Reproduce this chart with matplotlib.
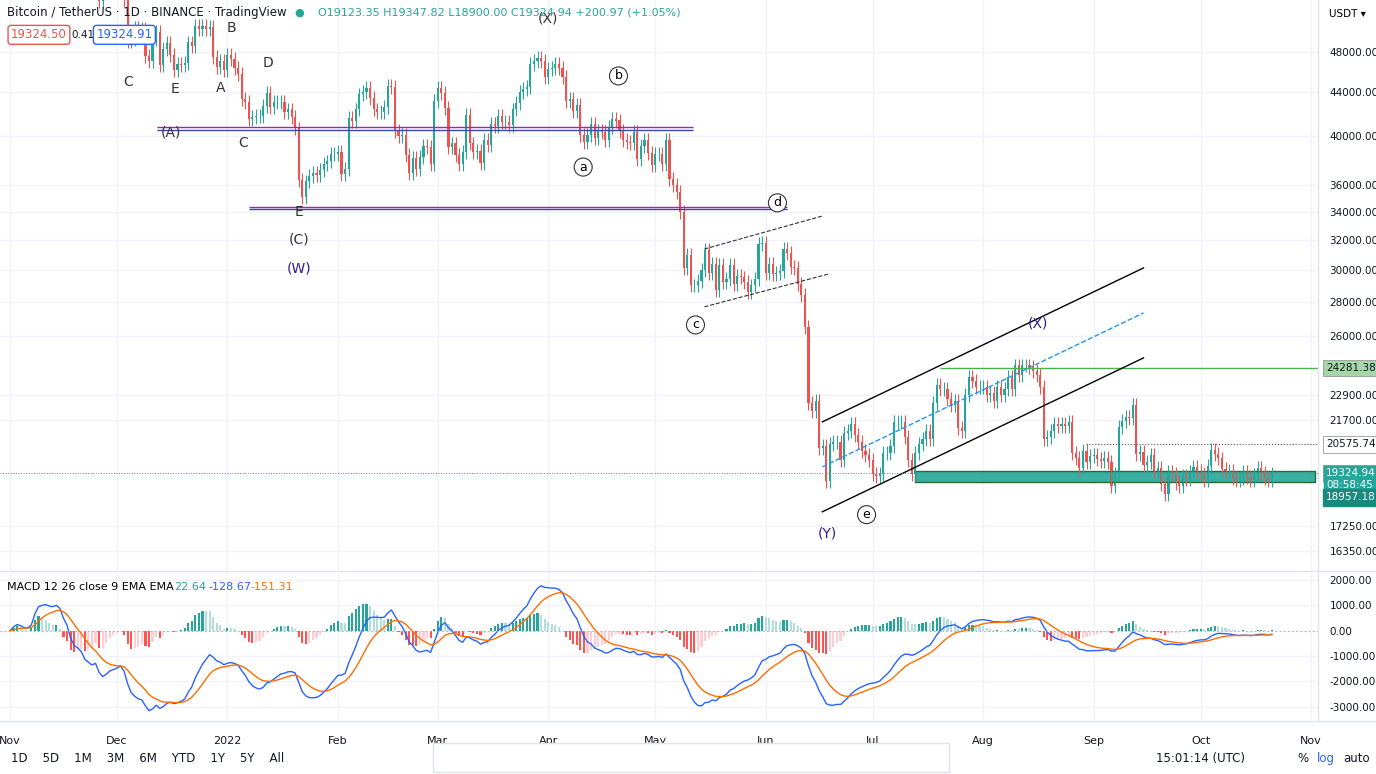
import numpy as np
import matplotlib.pyplot as plt
from matplotlib.ticker import NullLocator

# daily closes, Nov 1 2021 .. Oct 21 2022
closes = [
    # Nov
    61300, 63200, 62900, 61400, 61000, 61500, 63300, 67500, 66900, 64900, 64900, 64100, 64400, 65500, 63600,
    60100, 60400, 56900, 58100, 59700, 58700, 56300, 57600, 57200, 58900, 53600, 54800, 57300, 57800, 57000,
    # Dec
    56900, 57200, 53700, 49200, 49400, 50600, 50500, 50500, 47600, 47100, 49400, 50100, 46700, 48300, 48900,
    47700, 46200, 46800, 46700, 46900, 49000, 48600, 50800, 50400, 50800, 50400, 50700, 47500, 46500, 47100, 46200,
    # Jan
    47700, 47300, 46400, 45800, 43400, 43100, 41500, 41700, 41800, 41800, 42700, 43900, 42600, 43100, 43100,
    43100, 42200, 42400, 41700, 40700, 36400, 35100, 36300, 36700, 36950, 36800, 37200, 37700, 37900, 38500, 38500,
    # Feb
    38700, 36900, 37300, 41600, 41400, 42400, 43800, 44000, 44400, 43500, 42400, 42200, 42200, 42600, 44600,
    44500, 40500, 40000, 40100, 38400, 37000, 38200, 37300, 38300, 39200, 39100, 37700, 43200,
    # Mar
    44400, 43900, 42500, 39100, 39400, 38400, 37700, 38700, 41900, 39400, 38700, 38800, 37800, 39700, 39300,
    41100, 40900, 41800, 41300, 41300, 41000, 42400, 43000, 44000, 44300, 44500, 46800, 47100, 47400, 47100, 45500,
    # Apr
    46300, 46400, 46800, 46400, 45500, 43200, 43400, 42300, 42800, 40100, 39500, 40100, 41100, 39900, 40500,
    40400, 39700, 40800, 41500, 41400, 40500, 39700, 39500, 39400, 40400, 38100, 39200, 39700, 38600, 37600,
    # May
    38500, 38500, 37700, 39700, 36500, 36000, 35500, 34000, 30100, 31000, 29000, 29000, 29300, 30000, 31300,
    29800, 30400, 28700, 30300, 29200, 29400, 30300, 29100, 29600, 29500, 29200, 28600, 29000, 29400, 31700, 31800,
    # Jun
    29800, 30400, 29700, 29800, 29900, 31400, 31100, 30200, 30100, 29100, 28400, 26500, 22500, 22100, 22600,
    20400, 20500, 19000, 20600, 20700, 20700, 19900, 21100, 21200, 21500, 21000, 20700, 20300, 20100, 19900,
    # Jul
    19300, 19200, 19300, 20200, 20200, 20500, 21600, 21600, 21600, 20900, 19900, 19300, 20200, 20600, 20800,
    21200, 20800, 22500, 23400, 23200, 23200, 22700, 22400, 22600, 21300, 21200, 22900, 23800, 23600, 23300, 23300,
    # Aug
    23300, 22900, 23000, 22600, 23300, 22900, 23200, 23800, 23200, 24400, 23900, 24400, 24400, 24300, 24100,
    23900, 23300, 20800, 20900, 21200, 21500, 21400, 21500, 21400, 21600, 20200, 20000, 19550, 20300, 19800, 20050,
    # Sep
    20100, 19950, 19830, 19990, 19800, 18800, 19300, 21350, 21650, 21830, 21770, 22400, 20170, 20230, 19700,
    19800, 20110, 19420, 19540, 18880, 18480, 19400, 19300, 18920, 18800, 19220, 19080, 19410, 19590, 19430,
    # Oct
    19310, 19060, 19630, 20340, 20160, 19960, 19530, 19420, 19440, 19130, 19060, 19150, 19380, 19180, 19070,
    19260, 19550, 19330, 19120, 19040, 19324,
]
month_labels = ["Nov", "Dec", "2022", "Feb", "Mar", "Apr", "May", "Jun", "Jul", "Aug", "Sep", "Oct", "Nov"]
month_days = [0, 30, 61, 92, 120, 151, 181, 212, 242, 273, 304, 334, 365]
price_ticks = [48000, 44000, 40000, 36000, 34000, 32000, 30000, 28000, 26000, 22900, 21700, 17250, 16350]
macd_ticks = [2000, 1000, 0, -1000, -2000, -3000]

UP, DN = "#26a69a", "#ef5350"
c = np.array(closes, dtype=float)
o = np.r_[c[0], c[:-1]]
h = np.maximum(o, c) * 1.015
l = np.minimum(o, c) * 0.985
x = np.arange(len(c))
col = np.where(c >= o, UP, DN)

fig = plt.figure(figsize=(13.76, 7.74), dpi=100)
ax = fig.add_axes([0, 0.2636, 0.958, 0.7364])
mx = fig.add_axes([0, 0.070, 0.958, 0.191], sharex=ax)

for a in (ax, mx):
    for s in a.spines.values():
        s.set_visible(False)
    a.set_axisbelow(True)
    a.grid(color="#f0f3fa", lw=1)
    a.yaxis.tick_right()
    a.tick_params(length=0, labelsize=7.5, colors="#131722", pad=8)
fig.add_artist(plt.Line2D([0, 1], [0.2625, 0.2625], color="#e0e3eb", lw=1))
fig.add_artist(plt.Line2D([0, 1], [0.068, 0.068], color="#e0e3eb", lw=1))
fig.add_artist(plt.Line2D([0.958, 0.958], [0.068, 1], color="#e0e3eb", lw=1))

ax.vlines(x, l, h, colors=col, lw=0.8)
ax.bar(x, np.abs(c - o) + 1, bottom=np.minimum(o, c), width=0.6, color=col)
ax.set_yscale("log")
ax.set_ylim(15690, 53700)
ax.set_xlim(-2.8, 367)
ax.yaxis.set_minor_locator(NullLocator())
ax.set_yticks(price_ticks)
ax.set_yticklabels([f"{v:.2f}" for v in price_ticks])
plt.setp(ax.get_xticklabels(), visible=False)

# levels and channels
for y0, x0, x1 in [(40700, 41.3, 191.7), (34270, 67.1, 218.1)]:
    ax.hlines([y0 * 1.003, y0 * 0.997], x0, x1, colors=["#9c27b0", "#3949ab"], lw=1)
ax.hlines(24281, 261, 367, colors="#4caf50", lw=1)
ax.hlines(20575, 301.8, 367, colors="#555", lw=0.8, linestyles=":")
ax.fill_between([254, 366], 18957, 19420, color=UP, alpha=0.9, lw=1, edgecolor="#1b5e20")
ax.plot([227.9, 318], [21600, 30115], color="k", lw=1)
ax.plot([227.9, 318], [17790, 24800], color="k", lw=1)
ax.plot([227.9, 318], [np.sqrt(21600 * 17790), np.sqrt(30115 * 24800)], color="#2196f3", lw=1, ls="--")
ax.plot([194.8, 227.9], [31370, 33690], color="#333", lw=0.8, ls="--")
ax.plot([194.8, 229.6], [27690, 29720], color="#333", lw=0.8, ls="--")

labels = [("(A)", 45.2, 40310, "#333"), ("C", 65.4, 39440, "#333"), ("E", 81.1, 33980, "#333"),
          ("(C)", 81.1, 31990, "#333"), ("(W)", 81.1, 30110, "#311b92"), ("D", 72.4, 46880, "#333"),
          ("A", 59.2, 44410, "#333"), ("B", 62.1, 50550, "#333"), ("C", 33.1, 44990, "#333"),
          ("E", 46.3, 44310, "#333"), ("(X)", 151, 51650, "#333"), ("(Y)", 229.3, 16960, "#311b92"),
          ("(X)", 288.3, 26690, "#311b92")]
for t, xx, yy, cc in labels:
    ax.text(xx, yy, t, ha="center", va="center", fontsize=10, color=cc)
for t, xx, yy in [("b", 170.7, 45580), ("a", 160.8, 37440), ("d", 215.3, 34660),
                  ("c", 192.3, 26630), ("e", 240.3, 17680)]:
    ax.text(xx, yy, t, ha="center", va="center", fontsize=9,
            bbox=dict(boxstyle="circle,pad=0.2", fc="white", ec="#333", lw=0.8))

# right-side price tags
ytr = ax.get_yaxis_transform()
for v, t, fc, tc in [(24281, "24281.38", "#a5d6a7", "#131722"), (20575, "20575.74", "white", "#131722"),
                     (19324, "19324.94", UP, "white")]:
    ax.text(1.006, v, t, transform=ytr, fontsize=7.5, color=tc, va="center",
            bbox=dict(boxstyle="square,pad=0.3", fc=fc, ec="#888", lw=0.5))
ax.text(1.006, 19050, "08:58:45", transform=ytr, fontsize=7.5, color="white",
        va="top", bbox=dict(boxstyle="square,pad=0.2", fc=UP, ec=UP))
ax.text(1.006, 18550, "18957.18", transform=ytr, fontsize=7.5, color="white",
        va="top", bbox=dict(boxstyle="square,pad=0.3", fc="#1b8a7e", ec="#1b8a7e"))
ax.text(1.008, 0.985, "USDT ▾", transform=ax.transAxes, fontsize=7.5, va="top")
ax.axhline(19324, color=UP, lw=0.7, ls=":")

# header
fig.text(0.005, 0.984, "Bitcoin / TetherUS · 1D · BINANCE · TradingView", fontsize=8.5, color="#131722", va="center")
fig.text(0.214, 0.984, "●", fontsize=8, color=UP, va="center")
fig.text(0.231, 0.984, "O19123.35 H19347.82 L18900.00 C19324.94 +200.97 (+1.05%)", fontsize=8, color=UP, va="center")
fig.text(0.008, 0.955, "19324.50", fontsize=8.5, color=DN, va="center",
         bbox=dict(boxstyle="round,pad=0.25", fc="white", ec=DN))
fig.text(0.052, 0.955, "0.41", fontsize=7.5, color="#131722", va="center")
fig.text(0.070, 0.955, "19324.91", fontsize=8.5, color="#2962ff", va="center",
         bbox=dict(boxstyle="round,pad=0.25", fc="white", ec="#2962ff"))

# MACD
def ema(v, n):
    out = np.empty_like(v)
    k = 2 / (n + 1)
    out[0] = v[0]
    for i in range(1, len(v)):
        out[i] = v[i] * k + out[i - 1] * (1 - k)
    return out

macd = ema(c, 12) - ema(c, 26)
sig = ema(macd, 9)
hist = macd - sig
prev = np.r_[hist[0], hist[:-1]]
hcol = np.where(hist >= 0, np.where(hist >= prev, "#26a69a", "#b2dfdb"),
                np.where(hist < prev, "#ff5252", "#ffcdd2"))
mx.bar(x, hist, width=0.6, color=hcol)
mx.plot(x, macd, color="#2962ff", lw=1)
mx.plot(x, sig, color="#ff6d00", lw=1)
mx.axhline(0, color="#aaa", lw=0.6, ls=(0, (2, 3)))
mx.set_ylim(-3512, 2315)
mx.set_yticks(macd_ticks)
mx.set_yticklabels([f"{v:.2f}" for v in macd_ticks])
mx.set_xticks(month_days)
mx.set_xticklabels(month_labels)
mx.tick_params(axis="x", pad=12, labelsize=8)
mx.text(0.005, 0.93, "MACD 12 26 close 9 EMA EMA", transform=mx.transAxes, fontsize=8, va="top")
mx.text(0.132, 0.93, "22.64", transform=mx.transAxes, fontsize=8, va="top", color=UP)
mx.text(0.158, 0.93, "-128.67", transform=mx.transAxes, fontsize=8, va="top", color="#2962ff")
mx.text(0.190, 0.93, "-151.31", transform=mx.transAxes, fontsize=8, va="top", color="#ff6d00")

# bottom toolbar
fig.text(0.008, 0.02, "1D    5D    1M    3M    6M    YTD    1Y    5Y    All", fontsize=8.5, color="#131722", va="center")
fig.text(0.84, 0.02, "15:01:14 (UTC)", fontsize=8.5, color="#131722", va="center")
fig.text(0.943, 0.02, "%", fontsize=8.5, color="#131722", va="center")
fig.text(0.957, 0.02, "log", fontsize=8.5, color="#2962ff", va="center")
fig.text(0.976, 0.02, "auto", fontsize=8.5, color="#131722", va="center")
fig.add_artist(plt.Rectangle((0.315, 0.003), 0.375, 0.037, fc="white", ec="#e0e3eb", lw=1))

fig.savefig("out.png", dpi=100)
